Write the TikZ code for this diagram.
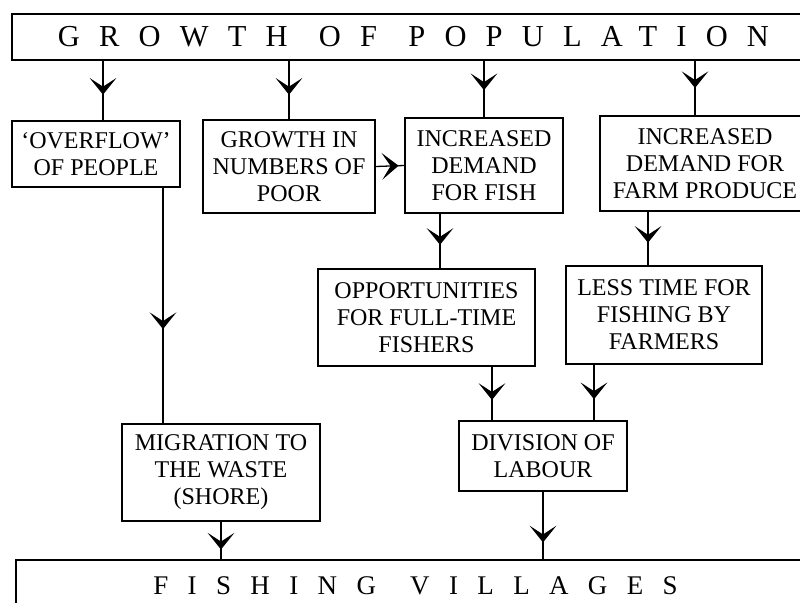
\documentclass[tikz,border=0pt]{standalone}
\usepackage{fontspec}
\setmainfont{Liberation Serif}
\newfontfamily\spacedfont{Liberation Serif}[LetterSpace=63]
\newfontfamily\widefont{Liberation Serif}[LetterSpace=72]
\usetikzlibrary{arrows.meta, decorations.markings}

\begin{document}
\begin{tikzpicture}[
    x=0.03cm, y=0.03cm,
    box/.style={rectangle, draw=black, line width=1.1pt, inner sep=0pt, align=center, font=\fontsize{20.5}{23}\selectfont},
    titlebox/.style={rectangle, draw=black, line width=1.1pt, inner sep=0pt, font=\spacedfont\fontsize{26}{30}\selectfont},
    flow/.style={line width=1.1pt, postaction={decorate}, decoration={markings, mark=at position #1 with {\arrow{Stealth[length=5mm, width=8mm, inset=2.6mm]}}}},
    flow/.default=0.58
]
\useasboundingbox (0,0) rectangle (800,602);

% top and bottom bars
\node[titlebox, minimum width=24.09cm, minimum height=1.38cm] (population) at (413.5,565) {GROWTH\hspace{0.15em} OF\hspace{0.15em} POPULATION};
\node[titlebox, minimum width=23.97cm, minimum height=1.56cm, font=\widefont\fontsize{23}{27}\selectfont] (villages) at (415.5,16) {FISHING\hspace{0.3em} VILLAGES};

% first row
\node[box, minimum width=5.04cm, minimum height=1.98cm] (overflow) at (96,448) {`OVERFLOW'\\OF PEOPLE};
\node[box, minimum width=5.16cm, minimum height=2.79cm] (poor) at (289,435.5) {GROWTH IN\\NUMBERS OF\\POOR};
\node[box, minimum width=4.74cm, minimum height=2.85cm] (fish) at (484,436.5) {INCREASED\\DEMAND\\FOR FISH};
\node[box, minimum width=6.3cm, minimum height=2.85cm] (farm) at (705,438.5) {INCREASED\\DEMAND FOR\\FARM PRODUCE};

% second row
\node[box, minimum width=6.51cm, minimum height=2.91cm] (fulltime) at (426.5,284.5) {OPPORTUNITIES\\FOR FULL-TIME\\FISHERS};
\node[box, minimum width=5.88cm, minimum height=2.94cm] (lesstime) at (664,287) {LESS TIME FOR\\FISHING BY\\FARMERS};

% third row
\node[box, minimum width=5.04cm, minimum height=2.1cm] (labour) at (543,146) {DIVISION OF\\LABOUR};
\node[box, minimum width=5.94cm, minimum height=2.91cm] (migration) at (221,129.5) {MIGRATION TO\\THE WASTE\\(SHORE)};

% arrows from the top bar
\draw[flow=0.57] (population.south -| 103,0) -- (overflow.north -| 103,0);
\draw[flow] (population.south -| poor.north) -- (poor.north);
\draw[flow=0.52] (population.south -| fish.north) -- (fish.north);
\draw[flow=0.5] (population.south -| 695,0) -- (farm.north -| 695,0);
\draw[flow=0.8] (poor.east) -- (fish.west);

% middle arrows
\draw[flow=0.6] (overflow.south -| 163,0) -- (migration.north -| 163,0);
\draw[flow=0.57] (fish.south -| 440,0) -- (fulltime.north -| 440,0);
\draw[flow=0.58] (farm.south -| 648,0) -- (lesstime.north -| 648,0);
\draw[flow=0.62] (fulltime.south -| 492,0) -- (labour.north -| 492,0);
\draw[flow=0.62] (lesstime.south -| 594,0) -- (labour.north -| 594,0);

% into the bottom bar
\draw[flow=0.74] (migration.south) -- (migration.south |- villages.north);
\draw[flow=0.75] (labour.south) -- (labour.south |- villages.north);

\end{tikzpicture}
\end{document}
